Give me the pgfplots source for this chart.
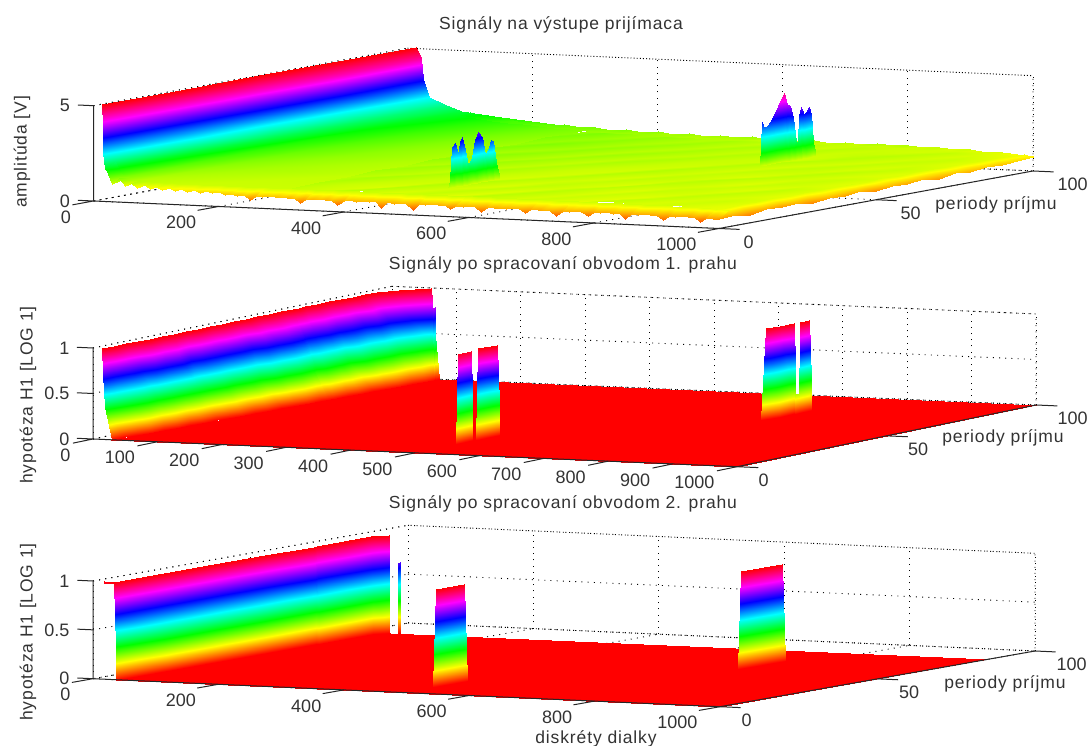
\documentclass[border=0pt]{standalone}
\usepackage{fontspec}
\setmainfont{Liberation Sans}
\newfontfamily\lbf[LetterSpace=5]{Liberation Sans}
\usepackage{pgfplots}
\pgfplotsset{compat=1.18}
\newcommand{\tk}{\fontsize{18}{18}\selectfont\color{black!80}}
\newcommand{\lb}{\lbf\fontsize{17.5}{17.5}\selectfont\color{black!80}}
\pgfplotsset{
 colormap={hsvm}{rgb255=(255,0,0) rgb255=(255,255,0) rgb255=(0,255,0) rgb255=(0,255,255) rgb255=(0,0,255) rgb255=(255,0,255) rgb255=(255,0,0)},
 radar/.style={
  colormap name=hsvm, clip=false, xmin=0,xmax=1000,ymin=0,ymax=100,zmin=0,
  ytick={0,50,100},
  axis line style={draw=none}, tick style={draw=none}, major tick length=0pt,
  grid=major, grid style={draw=black,line width=0.9pt,dash pattern=on 1pt off 5.2pt},
  anchor=origin,
  tick label style={font=\tk},
  /pgf/number format/assume math mode=true,
  /pgf/number format/1000 sep={},
  scaled ticks=false,
  xticklabel style={anchor=east,xshift=-19pt,yshift=-16pt},
  yticklabel style={anchor=west,xshift=21pt,yshift=-13.5pt},
  zticklabel style={anchor=east,xshift=-20pt},
 },
 wf/.style={surf,shader=interp,forget plot},
 box/.style={forget plot,no marks,draw=black,line width=0.9pt,dash pattern=on 1pt off 5.2pt},
}
\begin{document}
\begin{tikzpicture}[x=1pt,y=1pt]
\path[use as bounding box] (0,0) rectangle (1087,746);
% ---------- plot 1
\begin{axis}[radar,at={(93.5pt,545pt)},
 x={(0.6255pt,-0.0275pt)},y={(3.14pt,0.575pt)},z={(0pt,19.06pt)},
 zmax=5,point meta min=0,point meta max=5,
 xtick={0,200,400,600,800,1000},ztick={0,5}]
\addplot3[box] coordinates {(0,0,5) (0,100,5) (1000,100,5) (1000,100,0) (0,100,0) (0,0,0)};
% wall
\addplot3[wf,mesh/cols=9] coordinates {
(14,0,5.1)(14.5,0,4)(15,0,3)(15.5,0,2.6)(18,0,1.7)(33,0,1.2)(55,0,1.05)(119,0,1.0)(300,0,1.0)

(14,25,5.1)(16,25,4.2)(17.5,25,3.1)(19,25,2.6)(28,25,1.8)(46,25,1.4)(75,25,1.2)(130,25,1.12)(300,25,1.03)

(14,50,5.1)(17.5,50,4.3)(20,50,3.2)(24,50,2.55)(40,50,1.9)(60,50,1.55)(100,50,1.35)(170,50,1.2)(300,50,1.08)

(14,75,5.1)(19,75,4.4)(22.5,75,3.3)(29,75,2.5)(51,75,2.0)(72,75,1.7)(125,75,1.45)(208,75,1.25)(300,75,1.13)

(14,100,5.1)(21,100,4.5)(25,100,3.4)(33.6,100,2.5)(62,100,2.1)(85,100,1.85)(149,100,1.6)(245,100,1.34)(300,100,1.25)
};
% floor
\addplot3[wf,mesh/cols=15] coordinates {
(300,3,1.03)(350,3,.98)(400,3,1.06)(450,3,.96)(500,3,1.02)(550,3,.94)(600,3,1.05)(650,3,.97)(700,3,1.0)(750,3,.93)(800,3,1.04)(850,3,.96)(900,3,.99)(950,3,.94)(1000,3,.9)

(300,12,1.08)(350,12,1.01)(400,12,.96)(450,12,1.07)(500,12,.98)(550,12,1.03)(600,12,.95)(650,12,1.06)(700,12,.97)(750,12,1.01)(800,12,.94)(850,12,1.03)(900,12,.97)(950,12,1.0)(1000,12,.92)

(300,21,1.05)(350,21,1.11)(400,21,1.02)(450,21,.99)(500,21,1.08)(550,21,.96)(600,21,1.04)(650,21,.98)(700,21,1.05)(750,21,.95)(800,21,1.02)(850,21,.97)(900,21,1.04)(950,21,.96)(1000,21,.93)

(300,30,1.13)(350,30,1.04)(400,30,1.09)(450,30,1.01)(500,30,.97)(550,30,1.06)(600,30,.99)(650,30,1.03)(700,30,.96)(750,30,1.05)(800,30,.98)(850,30,1.01)(900,30,.95)(950,30,1.03)(1000,30,.91)

(300,39,1.08)(350,39,1.14)(400,39,1.03)(450,39,1.1)(500,39,1.02)(550,39,.98)(600,39,1.07)(650,39,.97)(700,39,1.04)(750,39,.99)(800,39,1.06)(850,39,.95)(900,39,1.02)(950,39,.97)(1000,39,.94)

(300,48,1.17)(350,48,1.07)(400,48,1.15)(450,48,1.04)(500,48,1.09)(550,48,1.01)(600,48,.98)(650,48,1.08)(700,48,.99)(750,48,1.03)(800,48,.96)(850,48,1.05)(900,48,.98)(950,48,1.01)(1000,48,.92)

(300,57,1.12)(350,57,1.2)(400,57,1.08)(450,57,1.13)(500,57,1.03)(550,57,1.1)(600,57,1.02)(650,57,.99)(700,57,1.07)(750,57,.98)(800,57,1.04)(850,57,.99)(900,57,1.05)(950,57,.96)(1000,57,.95)

(300,66,1.22)(350,66,1.12)(400,66,1.18)(450,66,1.07)(500,66,1.14)(550,66,1.04)(600,66,1.09)(650,66,1.02)(700,66,1.0)(750,66,1.07)(800,66,.98)(850,66,1.04)(900,66,.97)(950,66,1.02)(1000,66,.93)

(300,75,1.17)(350,75,1.24)(400,75,1.12)(450,75,1.17)(500,75,1.06)(550,75,1.12)(600,75,1.03)(650,75,1.08)(700,75,1.01)(750,75,.99)(800,75,1.06)(850,75,.98)(900,75,1.03)(950,75,.98)(1000,75,.94)

(300,84,1.25)(350,84,1.16)(400,84,1.2)(450,84,1.1)(500,84,1.15)(550,84,1.05)(600,84,1.1)(650,84,1.02)(700,84,1.07)(750,84,1.0)(800,84,1.02)(850,84,1.06)(900,84,.98)(950,84,1.01)(1000,84,.92)

(300,93,1.2)(350,93,1.25)(400,93,1.13)(450,93,1.18)(500,93,1.08)(550,93,1.12)(600,93,1.03)(650,93,1.08)(700,93,1.0)(750,93,1.05)(800,93,1.0)(850,93,.98)(900,93,1.03)(950,93,.96)(1000,93,.9)

(300,97,1.18)(350,97,1.16)(400,97,1.15)(450,97,1.1)(500,97,1.08)(550,97,1.07)(600,97,1.05)(650,97,1.03)(700,97,1.02)(750,97,1.02)(800,97,1.0)(850,97,.99)(900,97,.98)(950,97,.94)(1000,97,.88)
};
% back edge strips
\addplot3[wf,mesh/cols=9] coordinates {
(100,97,1.72)(125,97,1.6)(150,97,1.5)(175,97,1.43)(200,97,1.38)(225,97,1.33)(250,97,1.28)(275,97,1.24)(300,97,1.2)

(100,100,1.8)(125,100,1.62)(150,100,1.6)(175,100,1.43)(200,100,1.42)(225,100,1.32)(250,100,1.36)(275,100,1.25)(300,100,1.28)
};
\addplot3[wf,mesh/cols=29] coordinates {
(300,97,1.18)(325,97,1.16)(350,97,1.16)(375,97,1.15)(400,97,1.15)(425,97,1.12)(450,97,1.1)(475,97,1.08)(500,97,1.08)(525,97,1.07)(550,97,1.07)(575,97,1.05)(600,97,1.05)(625,97,1.03)(650,97,1.03)(675,97,1.02)(700,97,1.02)(725,97,1.02)(750,97,1.02)(775,97,1.0)(800,97,1.0)(825,97,1.0)(850,97,.99)(875,97,.98)(900,97,.98)(925,97,.96)(950,97,.94)(975,97,.9)(1000,97,.88)

(300,100,1.28)(325,100,1.2)(350,100,1.27)(375,100,1.15)(400,100,1.22)(425,100,1.1)(450,100,1.18)(475,100,1.08)(500,100,1.16)(525,100,1.1)(550,100,1.17)(575,100,1.02)(600,100,1.12)(625,100,1.02)(650,100,1.1)(675,100,1.0)(700,100,1.08)(725,100,1.0)(750,100,1.12)(775,100,1.03)(800,100,1.1)(825,100,.98)(850,100,1.03)(875,100,.95)(900,100,1.0)(925,100,.9)(950,100,.95)(975,100,.85)(1000,100,.78)
};
% right edge strip
\addplot3[wf,mesh/cols=2] coordinates {
(985,0,.9)(1000,0,.48)

(985,5,.92)(1000,5,.55)

(985,10,.94)(1000,10,.42)

(985,15,.92)(1000,15,.56)

(985,20,.95)(1000,20,.5)

(985,25,.93)(1000,25,.58)

(985,30,.92)(1000,30,.44)

(985,35,.95)(1000,35,.57)

(985,40,.94)(1000,40,.52)

(985,45,.96)(1000,45,.6)

(985,50,.93)(1000,50,.46)

(985,55,.95)(1000,55,.58)

(985,60,.94)(1000,60,.54)

(985,65,.96)(1000,65,.62)

(985,70,.93)(1000,70,.5)

(985,75,.95)(1000,75,.64)

(985,80,.94)(1000,80,.57)

(985,85,.96)(1000,85,.66)

(985,90,.92)(1000,90,.62)

(985,95,.92)(1000,95,.7)

(985,100,.88)(1000,100,.75)
};
% front edge strip
\addplot3[wf,mesh/cols=99] coordinates {
(20,0,1.7)(30,0,.95)(40,0,1.25)(50,0,.85)(60,0,1.05)(70,0,.8)(80,0,.95)(90,0,.78)(100,0,.9)(110,0,.75)(120,0,.86)(130,0,.72)(140,0,.82)(150,0,.7)(160,0,.8)(170,0,.66)(180,0,.76)(190,0,.68)(200,0,.74)(210,0,.62)(220,0,.7)(230,0,.6)(240,0,.68)(250,0,.4)(260,0,.66)(270,0,.6)(280,0,.67)(290,0,.62)(300,0,.65)(310,0,.58)(320,0,.64)(330,0,.36)(340,0,.62)(350,0,.6)(360,0,.64)(370,0,.57)(380,0,.62)(390,0,.34)(400,0,.6)(410,0,.63)(420,0,.56)(430,0,.62)(440,0,.58)(450,0,.63)(460,0,.32)(470,0,.6)(480,0,.55)(490,0,.62)(500,0,.58)(510,0,.28)(520,0,.6)(530,0,.56)(540,0,.62)(550,0,.57)(560,0,.6)(570,0,.38)(580,0,.6)(590,0,.55)(600,0,.6)(610,0,.56)(620,0,.33)(630,0,.6)(640,0,.55)(650,0,.59)(660,0,.54)(670,0,.6)(680,0,.56)(690,0,.36)(700,0,.58)(710,0,.54)(720,0,.59)(730,0,.55)(740,0,.3)(750,0,.58)(760,0,.54)(770,0,.58)(780,0,.55)(790,0,.35)(800,0,.57)(810,0,.53)(820,0,.58)(830,0,.54)(840,0,.57)(850,0,.3)(860,0,.56)(870,0,.52)(880,0,.57)(890,0,.53)(900,0,.56)(910,0,.33)(920,0,.55)(930,0,.52)(940,0,.56)(950,0,.51)(960,0,.55)(970,0,.28)(980,0,.54)(990,0,.5)(1000,0,.48)

(20,3,2)(30,3,1.35)(40,3,1.2)(50,3,1.12)(60,3,1.08)(70,3,1.05)(80,3,1.04)(90,3,1.03)(100,3,1.02)(110,3,1.01)(120,3,1)(130,3,1)(140,3,1)(150,3,1)(160,3,1)(170,3,1)(180,3,1)(190,3,1)(200,3,1)(210,3,1)(220,3,1)(230,3,1)(240,3,1)(250,3,1)(260,3,1)(270,3,1)(280,3,1)(290,3,1)(300,3,1)(310,3,1)(320,3,1)(330,3,1)(340,3,1)(350,3,1)(360,3,1)(370,3,1)(380,3,1)(390,3,1)(400,3,1)(410,3,1)(420,3,1)(430,3,1)(440,3,1)(450,3,1)(460,3,1)(470,3,1)(480,3,1)(490,3,1)(500,3,1)(510,3,1)(520,3,1)(530,3,1)(540,3,1)(550,3,1)(560,3,1)(570,3,1)(580,3,1)(590,3,1)(600,3,1)(610,3,1)(620,3,1)(630,3,1)(640,3,1)(650,3,1)(660,3,1)(670,3,1)(680,3,1)(690,3,1)(700,3,1)(710,3,.98)(720,3,.98)(730,3,.98)(740,3,.98)(750,3,.98)(760,3,.98)(770,3,.98)(780,3,.98)(790,3,.98)(800,3,.98)(810,3,.98)(820,3,.98)(830,3,.98)(840,3,.98)(850,3,.98)(860,3,.98)(870,3,.98)(880,3,.98)(890,3,.98)(900,3,.98)(910,3,.94)(920,3,.94)(930,3,.94)(940,3,.94)(950,3,.94)(960,3,.94)(970,3,.94)(980,3,.92)(990,3,.9)(1000,3,.9)
};
% target at range 745
\addplot3[wf,mesh/cols=2] coordinates {
(745,63.9,1)(748,63.9,1)

(745,64.5,3.27)(748,64.5,1)

(745,65.1,2.94)(748,65.1,1)

(745,66.4,3.06)(748,66.4,1)

(745,68,3.43)(748,68,1)

(745,69.6,3.96)(748,69.6,1)

(745,71.5,4.57)(748,71.5,1)

(745,72.4,3.96)(748,72.4,1)

(745,73.4,3.85)(748,73.4,1)

(745,74.4,3.2)(748,74.4,1)

(745,75.3,1.9)(748,75.3,1)

(745,75.8,1.9)(748,75.8,1)

(745,76.3,3.28)(748,76.3,1)

(745,76.9,3.69)(748,76.9,1)

(745,77.9,3.25)(748,77.9,1)

(745,79.3,3.6)(748,79.3,1)

(745,80.1,3.2)(748,80.1,1)

(745,80.6,1.75)(748,80.6,1)

(745,81,1)(748,81,1)
};
% target at range 497
\addplot3[wf,mesh/cols=2] coordinates {
(497,13.9,1)(500,13.9,1)

(497,14.5,1.38)(500,14.5,1)

(497,15.1,3.1)(500,15.1,1)

(497,16.1,3.27)(500,16.1,1)

(497,17.1,2.67)(500,17.1,1)

(497,17.7,3.3)(500,17.7,1)

(497,18.5,3.5)(500,18.5,1)

(497,19.3,2.83)(500,19.3,1)

(497,20.25,2)(500,20.25,1)

(497,21.5,2.4)(500,21.5,1)

(497,22.5,3.25)(500,22.5,1)

(497,23.6,3.64)(500,23.6,1)

(497,24.7,3.33)(500,24.7,1)

(497,25.7,2.35)(500,25.7,1)

(497,26.6,2.6)(500,26.6,1)

(497,27.6,3.1)(500,27.6,1)

(497,28.2,3)(500,28.2,1)

(497,29.2,1.9)(500,29.2,1)

(497,29.8,1)(500,29.8,1)
};
\draw[black!85,line width=1pt] (axis cs:0,0,5)--(axis cs:0,0,0)--(axis cs:1000,0,0)--(axis cs:1000,100,0);
\draw[black!85,line width=1pt]
 (axis cs:0,0,5)--(axis cs:-25,0,5) (axis cs:0,0,0)--(axis cs:-25,0,0)
 (axis cs:0,0,0)--(axis cs:0,-6.7,0) (axis cs:200,0,0)--(axis cs:200,-6.7,0)
 (axis cs:400,0,0)--(axis cs:400,-6.7,0) (axis cs:600,0,0)--(axis cs:600,-6.7,0)
 (axis cs:800,0,0)--(axis cs:800,-6.7,0) (axis cs:1000,0,0)--(axis cs:1000,-6.7,0)
 (axis cs:1000,0,0)--(axis cs:1033,0,0) (axis cs:1000,50,0)--(axis cs:1033,50,0)
 (axis cs:1000,100,0)--(axis cs:1033,100,0);
\end{axis}
% ---------- plot 2
\begin{axis}[radar,at={(93pt,307pt)},
 x={(0.644pt,-0.0277pt)},y={(2.99pt,0.617pt)},z={(0pt,91pt)},
 zmax=1,point meta min=0,point meta max=1,
 yticklabel style={xshift=-3pt},
 xtick={0,100,200,300,400,500,600,700,800,900,1000},ztick={0,0.5,1}]
\addplot3[box] coordinates {(0,0,1) (0,100,1) (1000,100,1) (1000,100,0) (0,100,0) (0,0,0)};
\addplot3[wf,mesh/cols=4] coordinates {
(14,0,1)(15.5,0,.72)(18,0,.36)(30,0,0)

(14,4,1)(17,4,.68)(22,4,.40)(31.7,4,0)

(14,8,1)(19.4,8,.76)(26.4,8,.33)(33.4,8,0)

(14,12,1)(20,12,.68)(27.5,12,.39)(35.2,12,0)

(14,16,1)(20.5,16,.77)(28.6,16,.32)(36.9,16,0)

(14,20,1)(21,20,.70)(29.7,20,.40)(38.6,20,0)

(14,24,1)(21.4,24,.77)(30.8,24,.33)(40.3,24,0)

(14,28,1)(22,28,.68)(32,28,.40)(42,28,0)

(14,32,1)(22.3,32,.65)(33,32,.31)(43.8,32,0)

(14,36,1)(22.8,36,.75)(34,36,.39)(45.5,36,0)

(14,40,1)(23.3,40,.68)(35.2,40,.32)(47.2,40,0)

(14,44,1)(23.8,44,.77)(36.3,44,.40)(48.9,44,0)

(14,48,1)(24.2,48,.70)(37.4,48,.33)(50.6,48,0)

(14,52,1)(24.8,52,.78)(38.6,52,.41)(52.4,52,0)

(14,56,1)(25.2,56,.71)(39.6,56,.34)(54,56,0)

(14,60,1)(25.7,60,.77)(40.8,60,.40)(55.8,60,0)

(14,64,1)(26.1,64,.73)(41.8,64,.38)(57.5,64,0)

(14,66,1)(26.4,66,.64)(42.4,66,.26)(58.4,66,0)

(14,68,1)(26.6,68,.73)(43,68,.38)(59.2,68,0)

(14,72,1)(27,72,.78)(44,72,.41)(61,72,0)

(14,76,1)(27.6,76,.71)(45,76,.34)(62.7,76,0)

(14,80,1)(28,80,.78)(46.3,80,.41)(64.4,80,0)

(14,84,1)(28.5,84,.72)(47.4,84,.35)(66,84,0)

(14,88,1)(29,88,.79)(48.4,88,.42)(67.8,88,0)

(14,92,1)(29.6,92,.73)(49.6,92,.35)(69.6,92,0)

(30,96,1)(40,96,.75)(55,96,.38)(71,96,0)

(60,100,1)(64,100,.72)(69,100,.36)(73,100,0)
};
\addplot3[wf,mesh/cols=2] coordinates {(28,0,0)(1000,0,0)

(73,100,0)(1000,100,0)};
% small spike behind the wall edge
\addplot3[wf,mesh/cols=2] coordinates {(67,99.4,.79)(68,99.4,0)

(67,100,.79)(68,100,0)};
\addplot3[wf,mesh/cols=2] coordinates {(743,65,1)(743,63.5,0)

(743,69.7,.99)(743,69.7,0)

(743,74.4,1)(743,75,0)};
\addplot3[wf,mesh/cols=2] coordinates {(744,74.4,.22)(744,74.4,0)

(744,76,.22)(744,76,0)};
\addplot3[wf,mesh/cols=2] coordinates {(745,75.9,1)(745,75.5,0)

(745,79.1,1)(745,79.9,0)};
\addplot3[wf,mesh/cols=2] coordinates {(498,21.6,1)(498,20.9,0)

(498,28,1)(498,28.7,0)};
\addplot3[wf,mesh/cols=2] coordinates {(496,15.2,.98)(496,14.6,0)

(496,19.6,.98)(496,20.2,0)};
\draw[black!85,line width=1pt] (axis cs:0,0,1)--(axis cs:0,0,0)--(axis cs:1000,0,0)--(axis cs:1000,100,0);
\draw[black!85,line width=1pt]
 (axis cs:0,0,1)--(axis cs:-25,0,1) (axis cs:0,0,0.5)--(axis cs:-25,0,0.5) (axis cs:0,0,0)--(axis cs:-25,0,0)
 (axis cs:0,0,0)--(axis cs:0,-6.7,0) (axis cs:100,0,0)--(axis cs:100,-6.7,0)
 (axis cs:200,0,0)--(axis cs:200,-6.7,0) (axis cs:300,0,0)--(axis cs:300,-6.7,0)
 (axis cs:400,0,0)--(axis cs:400,-6.7,0) (axis cs:500,0,0)--(axis cs:500,-6.7,0)
 (axis cs:600,0,0)--(axis cs:600,-6.7,0) (axis cs:700,0,0)--(axis cs:700,-6.7,0)
 (axis cs:800,0,0)--(axis cs:800,-6.7,0) (axis cs:900,0,0)--(axis cs:900,-6.7,0)
 (axis cs:1000,0,0)--(axis cs:1000,-6.7,0)
 (axis cs:1000,0,0)--(axis cs:1033,0,0) (axis cs:1000,50,0)--(axis cs:1033,50,0)
 (axis cs:1000,100,0)--(axis cs:1033,100,0);
\end{axis}
% ---------- plot 3
\begin{axis}[radar,at={(93pt,67.3pt)},
 x={(0.627pt,-0.028pt)},y={(3.15pt,0.557pt)},z={(0pt,97.7pt)},
 zmax=1,point meta min=0,point meta max=1,
 yticklabel style={xshift=-3pt},
 xtick={0,200,400,600,800,1000},ztick={0,0.5,1}]
\addplot3[box] coordinates {(0,0,1) (0,100,1) (1000,100,1) (1000,100,0) (0,100,0) (0,0,0)};
\addplot3[wf,mesh/cols=4] coordinates {
(33,0,1)(34.5,0,.66)(36,0,.33)(37,0,0)

(33,16,1)(34.5,16,.67)(36,16,.33)(37,16,0)

(33,32,1)(34.5,32,.66)(36,32,.34)(37,32,0)

(33,48,1)(34.5,48,.67)(36,48,.33)(37,48,0)

(33,63.5,1)(34.5,63.5,.66)(36,63.5,.33)(37,63.5,0)

(33,64.5,1)(34.5,64.5,.69)(36,64.5,.37)(37,64.5,0)

(33,81.6,1)(34.5,81.6,.70)(36,81.6,.38)(37,81.6,0)

(45,85,1)(45.5,85,.69)(45.8,85,.37)(46,85,0)
};
\addplot3[wf,mesh/cols=2] coordinates {(17,0,1)(33,0,1)

(17,0,.98)(33,0,.98)};
\addplot3[wf,mesh/cols=2] coordinates {(37,0,0)(1000,0,0)

(37,81.6,0)(1000,81.6,0)

(46,85,0)(1000,85,0)};
\addplot3[wf,mesh/cols=2] coordinates {(59,85,.72)(59.5,85,0)

(59,85.8,.72)(59.5,85.8,0)};
\addplot3[wf,mesh/cols=2] coordinates {(752,56,1)(752,55,0)

(752,69,1)(752,70,0)};
\addplot3[wf,mesh/cols=2] coordinates {(494,10.5,1)(494,9.7,0)

(494,19.5,1)(494,20.5,0)};
\draw[black!85,line width=1pt] (axis cs:0,0,1)--(axis cs:0,0,0)--(axis cs:1000,0,0)--(axis cs:1000,100,0);
\draw[black!85,line width=1pt]
 (axis cs:0,0,1)--(axis cs:-25,0,1) (axis cs:0,0,0.5)--(axis cs:-25,0,0.5) (axis cs:0,0,0)--(axis cs:-25,0,0)
 (axis cs:0,0,0)--(axis cs:0,-6.7,0) (axis cs:200,0,0)--(axis cs:200,-6.7,0)
 (axis cs:400,0,0)--(axis cs:400,-6.7,0) (axis cs:600,0,0)--(axis cs:600,-6.7,0)
 (axis cs:800,0,0)--(axis cs:800,-6.7,0) (axis cs:1000,0,0)--(axis cs:1000,-6.7,0)
 (axis cs:1000,0,0)--(axis cs:1033,0,0) (axis cs:1000,50,0)--(axis cs:1033,50,0)
 (axis cs:1000,100,0)--(axis cs:1033,100,0);
\end{axis}
% ---------- texts
\node[font=\lb] at (561,721) {Signály na výstupe prijímaca};
\node[font=\lb] at (563,481) {Signály po spracovaní obvodom 1. prahu};
\node[font=\lb] at (563,242) {Signály po spracovaní obvodom 2. prahu};
\node[font=\lb,rotate=90] at (22,594) {amplitúda [V]};
\node[font=\lb,rotate=90] at (28,351) {hypotéza H1 [LOG 1]};
\node[font=\lb,rotate=90] at (28,114) {hypotéza H1 [LOG 1]};
\node[font=\lb] at (996,541) {periody príjmu};
\node[font=\lb] at (1003,308) {periody príjmu};
\node[font=\lb] at (1005,62) {periody príjmu};
\node[font=\lb] at (596,7) {diskréty dialky};
\end{tikzpicture}
\end{document}
